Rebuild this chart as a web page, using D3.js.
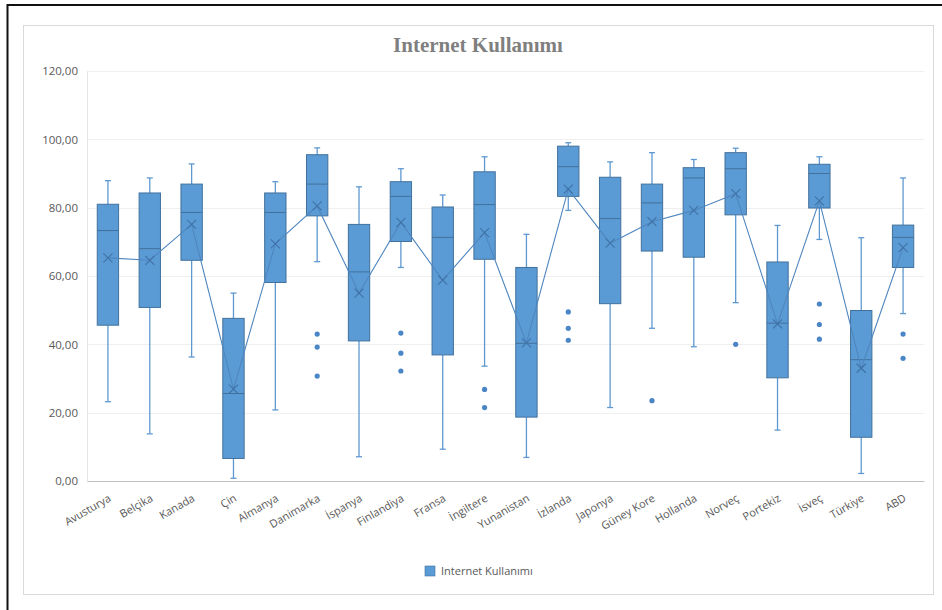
<!DOCTYPE html>
<html>
<head>
<meta charset="utf-8">
<script src="https://cdn.jsdelivr.net/npm/d3@7"></script>
<style>
  html, body { margin: 0; padding: 0; background: #ffffff; }
  svg { display: block; }
</style>
</head>
<body>
<svg id="chart" width="942" height="610"></svg>
<script>
// Internet usage by country, box-and-whisker summary
const categories = ["Avusturya", "Belçika", "Kanada", "Çin", "Almanya", "Danimarka", "İspanya",
  "Finlandiya", "Fransa", "İngiltere", "Yunanistan", "İzlanda", "Japonya", "Güney Kore",
  "Hollanda", "Norveç", "Portekiz", "İsveç", "Türkiye", "ABD"];

const whiskerHigh = [87.9, 88.7, 92.8, 55.0, 87.6, 97.5, 86.1, 91.4, 83.7, 94.9, 72.2, 99.0, 93.4, 96.1, 94.1, 97.4, 74.8, 94.9, 71.2, 88.7];
const q3Values    = [81.0, 84.3, 86.9, 47.6, 84.3, 95.5, 75.1, 87.6, 80.2, 90.5, 62.5, 98.0, 88.9, 86.9, 91.7, 96.1, 64.1, 92.7, 49.9, 74.9];
const medians     = [73.3, 68.0, 78.6, 25.6, 78.6, 86.9, 61.2, 83.3, 71.3, 80.9, 40.3, 92.0, 76.8, 81.4, 88.7, 91.4, 46.2, 90.0, 35.5, 71.3];
const q1Values    = [45.6, 50.8, 64.6,  6.6, 58.1, 77.6, 41.0, 70.1, 36.9, 64.9, 18.7, 83.3, 51.9, 67.3, 65.5, 77.9, 30.2, 79.9, 12.8, 62.5];
const whiskerLow  = [23.2, 13.8, 36.3,  0.8, 20.8, 64.2,  7.1, 62.5,  9.3, 33.6,  6.9, 79.2, 21.5, 44.7, 39.3, 52.2, 14.9, 70.7,  2.2, 49.0];
const means       = [65.3, 64.6, 75.1, 26.9, 69.4, 80.5, 55.0, 75.7, 58.8, 72.7, 40.4, 85.4, 69.6, 75.9, 79.2, 84.1, 46.0, 82.0, 33.0, 68.3];
const outliers    = [[], [], [], [], [], [43.0, 39.2, 30.7], [], [43.3, 37.4, 32.2], [], [26.8, 21.5],
  [], [49.5, 44.7, 41.2], [], [23.5], [], [40.0], [], [51.8, 45.8, 41.5], [], [43.0, 35.9]];
const yTicks = [0, 20, 40, 60, 80, 100, 120];
const seriesName = "Internet Kullanımı";

const svg = d3.select("#chart");
const W = 942, H = 610;
const margin = { left: 87, right: 18, top: 71, bottom: 129 };
const plotRight = W - margin.right;
const plotBottom = H - margin.bottom;

const boxFill = "#5b9bd5";
const boxStroke = "#41719c";
const whiskerColor = "#5f98d1";
const textColor = "#595959";
const labelFont = "'Open Sans', 'Noto Sans', sans-serif";

// outer frame (top and left rules) and chart area border
svg.append("line").attr("x1", 7).attr("x2", W).attr("y1", 5).attr("y2", 5)
  .attr("stroke", "#111").attr("stroke-width", 2);
svg.append("line").attr("x1", 7.5).attr("x2", 7.5).attr("y1", 4).attr("y2", H)
  .attr("stroke", "#111").attr("stroke-width", 2);
svg.append("rect").attr("x", 23.5).attr("y", 25.5).attr("width", 910).attr("height", 569)
  .attr("fill", "#fff").attr("stroke", "#d9d9d9").attr("stroke-width", 1);

const x = d3.scaleBand().domain(categories).range([margin.left, plotRight]).paddingInner(0).paddingOuter(0);
const y = d3.scaleLinear().domain([0, 120]).range([plotBottom, margin.top]);

// gridlines
svg.append("g").selectAll("line").data(yTicks.filter(d => d > 0)).join("line")
  .attr("x1", margin.left).attr("x2", plotRight)
  .attr("y1", d => Math.round(y(d)) + 0.5).attr("y2", d => Math.round(y(d)) + 0.5)
  .attr("stroke", "#efefef").attr("stroke-width", 1);

// y axis
const fmt = d => d3.format(".2f")(d).replace(".", ",");
const yAxis = svg.append("g")
  .attr("transform", `translate(${margin.left},0)`)
  .call(d3.axisLeft(y).tickValues(yTicks).tickFormat(fmt).tickSize(0).tickPadding(9));
yAxis.select(".domain").attr("stroke", "#e6e6e6");
yAxis.selectAll("text").attr("fill", textColor).style("font-family", labelFont).style("font-size", "11.5px");

// x axis
const xAxis = svg.append("g")
  .attr("transform", `translate(0,${plotBottom})`)
  .call(d3.axisBottom(x).tickSize(0).tickFormat(""));
xAxis.select(".domain").attr("stroke", "#bfbfbf");

svg.append("g").selectAll("text").data(categories).join("text")
  .attr("transform", d => `translate(${x(d) + x.bandwidth() / 2 + 2},${plotBottom + 16}) rotate(-30)`)
  .attr("text-anchor", "end")
  .attr("dy", "0.35em")
  .attr("fill", textColor)
  .style("font-family", labelFont)
  .style("font-size", "11px")
  .text(d => d);

// boxes
const boxW = x.bandwidth() * 0.51;
const capW = 6;
const groups = svg.append("g").selectAll("g").data(categories).join("g")
  .attr("transform", d => `translate(${x(d) + x.bandwidth() / 2},0)`);

// whiskers
groups.append("line")
  .attr("x1", 0).attr("x2", 0)
  .attr("y1", (d, i) => y(whiskerHigh[i])).attr("y2", (d, i) => y(q3Values[i]))
  .attr("stroke", whiskerColor).attr("stroke-width", 1.3);
groups.append("line")
  .attr("x1", 0).attr("x2", 0)
  .attr("y1", (d, i) => y(q1Values[i])).attr("y2", (d, i) => y(whiskerLow[i]))
  .attr("stroke", whiskerColor).attr("stroke-width", 1.3);
groups.append("line")
  .attr("x1", -capW / 2).attr("x2", capW / 2)
  .attr("y1", (d, i) => y(whiskerHigh[i])).attr("y2", (d, i) => y(whiskerHigh[i]))
  .attr("stroke", whiskerColor).attr("stroke-width", 1.3);
groups.append("line")
  .attr("x1", -capW / 2).attr("x2", capW / 2)
  .attr("y1", (d, i) => y(whiskerLow[i])).attr("y2", (d, i) => y(whiskerLow[i]))
  .attr("stroke", whiskerColor).attr("stroke-width", 1.3);

// interquartile box
groups.append("rect")
  .attr("x", -boxW / 2).attr("width", boxW)
  .attr("y", (d, i) => y(q3Values[i]))
  .attr("height", (d, i) => y(q1Values[i]) - y(q3Values[i]))
  .attr("fill", boxFill).attr("stroke", boxStroke).attr("stroke-width", 1);

// median
groups.append("line")
  .attr("x1", -boxW / 2).attr("x2", boxW / 2)
  .attr("y1", (d, i) => y(medians[i])).attr("y2", (d, i) => y(medians[i]))
  .attr("stroke", boxStroke).attr("stroke-width", 1);

// outlier points
groups.each(function (d, i) {
  d3.select(this).selectAll("circle").data(outliers[i]).join("circle")
    .attr("cx", 0).attr("cy", v => y(v)).attr("r", 2.6)
    .attr("fill", "#4a86c6");
});

// mean line
const meanLine = d3.line()
  .x((d, i) => x(categories[i]) + x.bandwidth() / 2)
  .y(d => y(d));
svg.append("path").datum(means)
  .attr("d", meanLine)
  .attr("fill", "none").attr("stroke", "#4f86bf").attr("stroke-width", 1.1);

// mean markers
const mk = 4.5;
const markers = svg.append("g").selectAll("g").data(means).join("g")
  .attr("transform", (d, i) => `translate(${x(categories[i]) + x.bandwidth() / 2},${y(d)})`);
markers.append("line").attr("x1", -mk).attr("y1", -mk).attr("x2", mk).attr("y2", mk)
  .attr("stroke", "#3f72a6").attr("stroke-width", 1.1);
markers.append("line").attr("x1", -mk).attr("y1", mk).attr("x2", mk).attr("y2", -mk)
  .attr("stroke", "#3f72a6").attr("stroke-width", 1.1);

// title
svg.append("text")
  .attr("x", 478).attr("y", 52)
  .attr("text-anchor", "middle")
  .attr("fill", "#7f7f7f")
  .style("font-family", "'Liberation Serif', 'Times New Roman', serif")
  .style("font-weight", "bold")
  .style("font-size", "21px")
  .text(seriesName);

// legend
const legend = svg.append("g").attr("transform", "translate(425,566)");
legend.append("rect").attr("width", 10).attr("height", 10)
  .attr("fill", boxFill).attr("stroke", boxStroke).attr("stroke-width", 0.6);
legend.append("text").attr("x", 16).attr("y", 9)
  .attr("fill", textColor)
  .style("font-family", labelFont)
  .style("font-size", "11px")
  .text(seriesName);
</script>
</body>
</html>
